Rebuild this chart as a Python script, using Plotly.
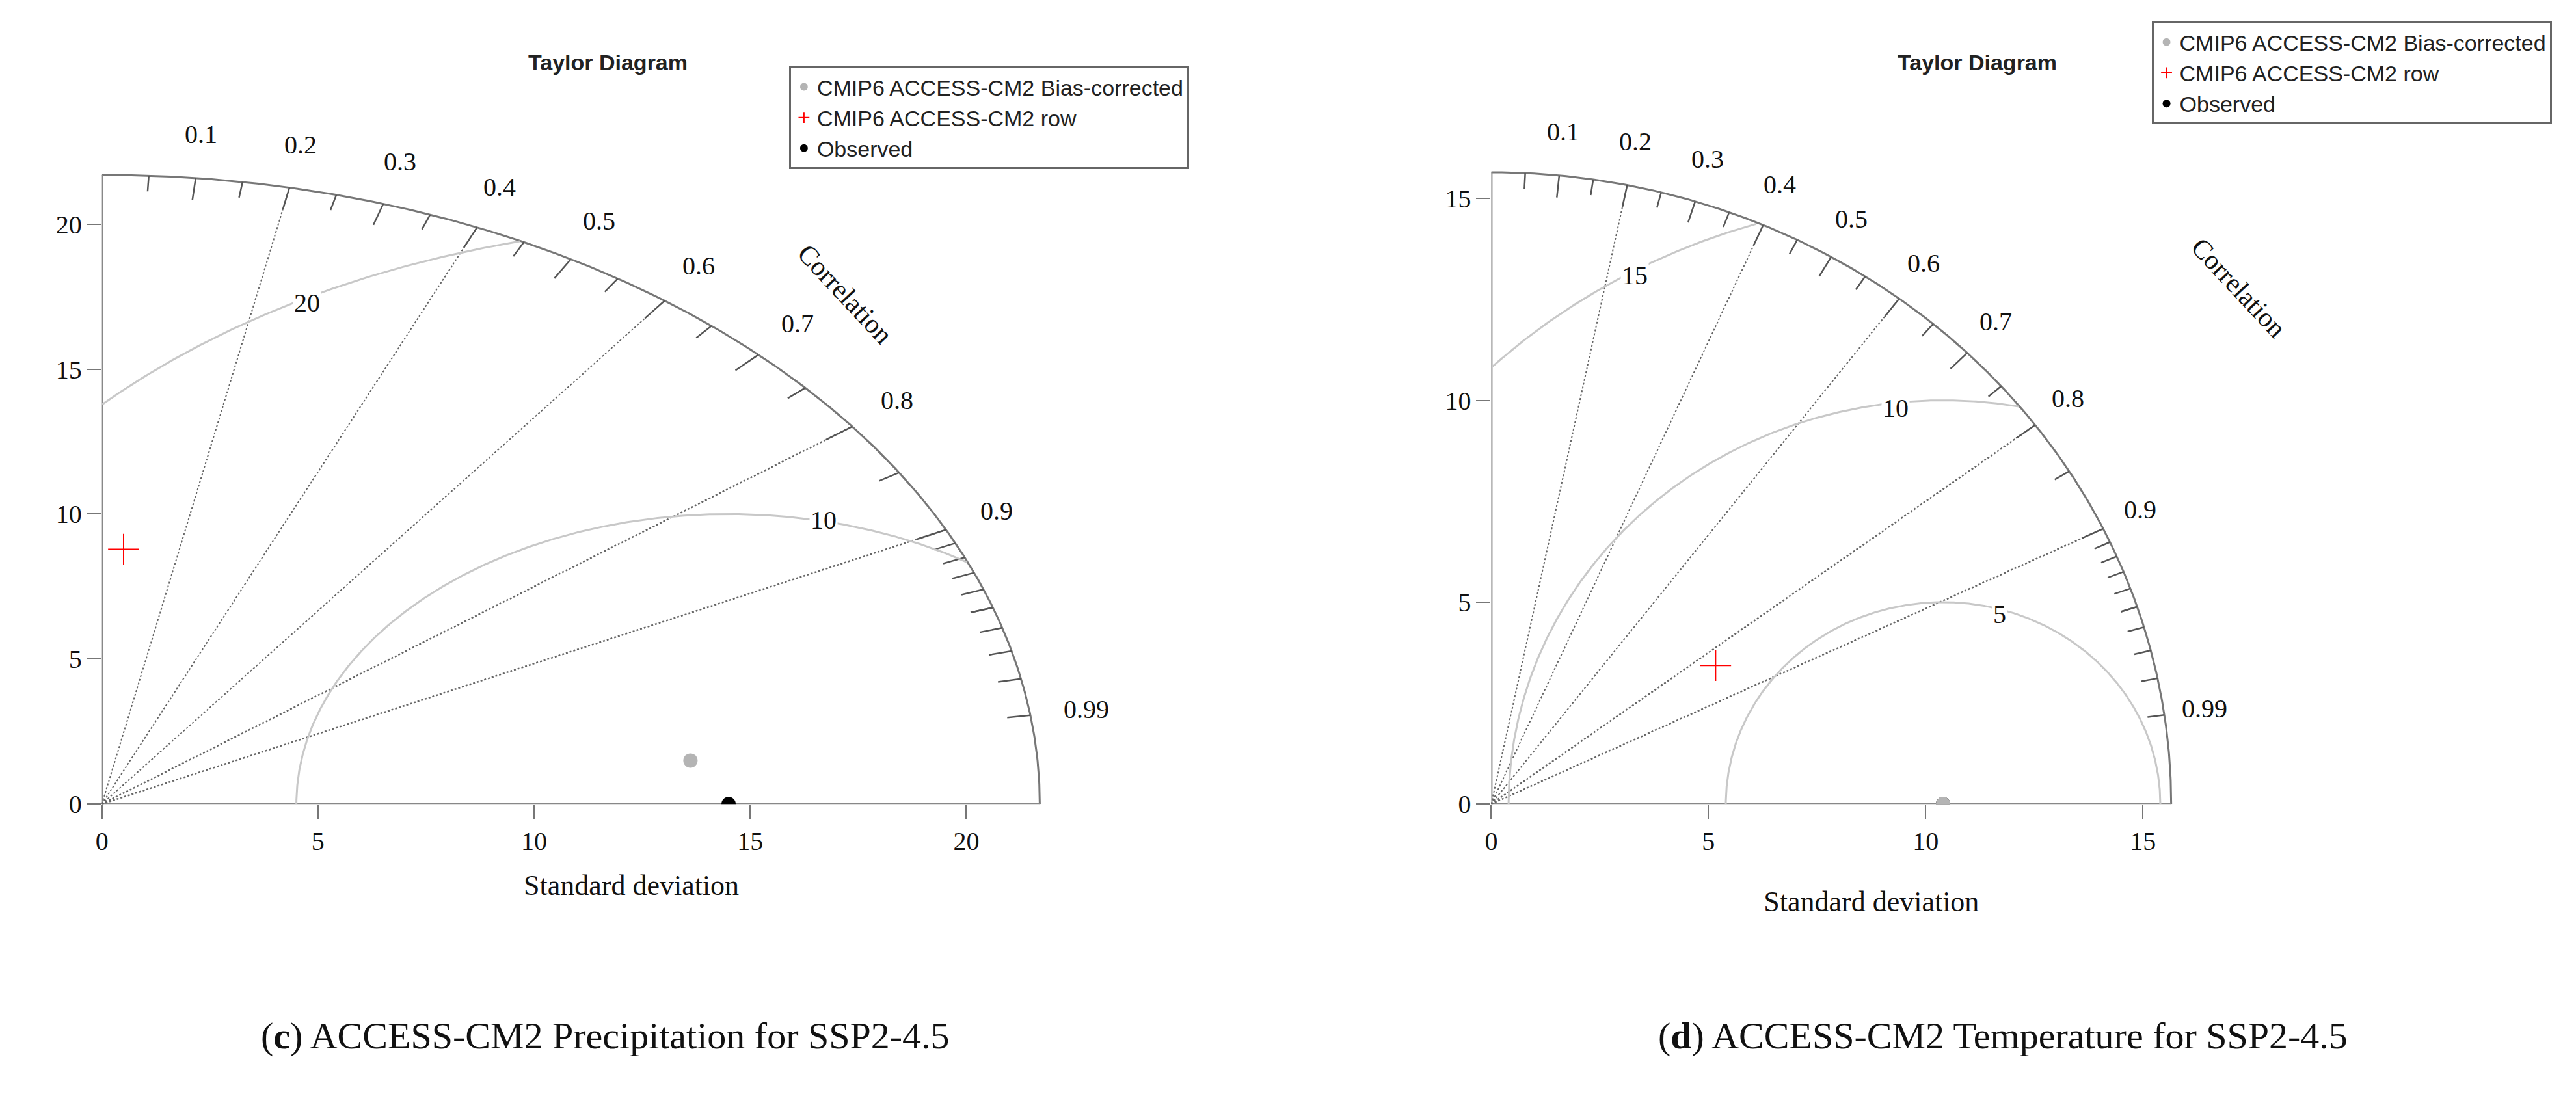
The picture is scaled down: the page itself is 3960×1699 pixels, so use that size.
import numpy as np
import plotly.graph_objects as go

# ---- data ----
series_names = ["CMIP6 ACCESS-CM2 Bias-corrected", "CMIP6 ACCESS-CM2 row", "Observed"]
# panel c (precipitation)
c_sd = [13.7, 8.8, 14.5]
c_corr = [0.994, 0.057, 1.0]
c_max = 21.7
c_rms = [10, 20]
# panel d (temperature)
d_sd = [10.4, 6.2, 10.4]
d_corr = [1.0, 0.833, 1.0]
d_max = 15.65
d_rms = [5, 10, 15]
corr_lines = [0.2, 0.4, 0.6, 0.8, 0.9]
corr_labels = [0.1, 0.2, 0.3, 0.4, 0.5, 0.6, 0.7, 0.8, 0.9, 0.99]
captions = ["(<b>c</b>) ACCESS-CM2 Precipitation for SSP2-4.5",
            "(<b>d</b>) ACCESS-CM2 Temperature for SSP2-4.5"]

W, H = 3960, 1699
fig = go.Figure()
SERIF = "Liberation Serif"
SANS = "Liberation Sans Narrow, Liberation Sans, Arial"

def panel(k, sd, corr, R, rms, rms_lab_pos, corr_word_pos, legend_name):
    xa = "x" if k == 1 else "x2"
    ya = "y" if k == 1 else "y2"
    th = np.linspace(0, np.pi / 2, 300)
    fig.add_trace(go.Scatter(x=R * np.cos(th), y=R * np.sin(th), mode="lines",
                             line=dict(color="#777", width=3), xaxis=xa, yaxis=ya,
                             showlegend=False, hoverinfo="skip"))
    fig.add_trace(go.Scatter(x=[0, R, None, 0, 0], y=[0, 0, None, 0, R], mode="lines",
                             line=dict(color="#888", width=4), xaxis=xa, yaxis=ya,
                             showlegend=False, hoverinfo="skip"))
    for c in corr_lines:
        a = np.arccos(c)
        fig.add_trace(go.Scatter(x=[0, R * np.cos(a)], y=[0, R * np.sin(a)], mode="lines",
                                 line=dict(color="#666", width=2.5 if c >= 0.8 else 2, dash="dot"),
                                 xaxis=xa, yaxis=ya, showlegend=False, hoverinfo="skip"))
    tx, ty = [], []
    ticks = list(np.round(np.arange(0.05, 0.951, 0.05), 2)) + list(np.round(np.arange(0.91, 0.991, 0.01), 2))
    for c in ticks:
        a = np.arccos(c)
        L = 0.035 if abs(c * 10 - round(c * 10)) < 1e-6 else 0.025
        tx += [R * np.cos(a), R * (1 - L) * np.cos(a), None]
        ty += [R * np.sin(a), R * (1 - L) * np.sin(a), None]
    fig.add_trace(go.Scatter(x=tx, y=ty, mode="lines", line=dict(color="#555", width=2.5),
                             xaxis=xa, yaxis=ya, showlegend=False, hoverinfo="skip"))
    for c in corr_labels:
        a = np.arccos(c)
        fig.add_annotation(x=1.06 * R * np.cos(a), y=1.07 * R * np.sin(a), text=str(c),
                           showarrow=False, xref=xa, yref=ya, font=dict(family=SERIF, size=40, color="#111"))
    fig.add_annotation(x=corr_word_pos[0], y=corr_word_pos[1], text="Correlation", textangle=47,
                       showarrow=False, xref=xa, yref=ya, font=dict(family=SERIF, size=42, color="#111"))
    ref = sd[2]
    for r, (lx, ly) in zip(rms, rms_lab_pos):
        t = np.linspace(0, np.pi, 600)
        x = ref + r * np.cos(t)
        y = r * np.sin(t)
        m = (np.hypot(x, y) <= R) & (x >= 0)
        x = np.where(m, x, np.nan)
        y = np.where(m, y, np.nan)
        fig.add_trace(go.Scatter(x=x, y=y, mode="lines", line=dict(color="#c8c8c8", width=3),
                                 xaxis=xa, yaxis=ya, showlegend=False, hoverinfo="skip",
                                 connectgaps=False))
        fig.add_annotation(x=lx, y=ly, text=str(r), showarrow=False, xref=xa, yref=ya,
                           bgcolor="white", font=dict(family=SERIF, size=40, color="#111"))
    styles = [dict(symbol="circle", color="#b4b4b4", size=22),
              dict(symbol="cross-thin-open", color="red", size=34, line=dict(color="red", width=2)),
              dict(symbol="circle", color="black", size=22)]
    order = [2, 0, 1] if k == 2 else [0, 1, 2]
    for i in order:
        a = np.arccos(corr[i])
        st = dict(styles[i])
        if "line" not in st:
            st["line"] = dict(width=0)
        fig.add_trace(go.Scatter(x=[sd[i] * np.cos(a)], y=[sd[i] * np.sin(a)], mode="markers",
                                 marker=st, name=series_names[i], legend=legend_name,
                                 legendrank=i, xaxis=xa, yaxis=ya, hoverinfo="skip"))

panel(1, c_sd, c_corr, c_max, c_rms, [(16.7, 9.8), (4.74, 17.3)], (17.2, 17.6), "legend")
panel(2, d_sd, d_corr, d_max, d_rms, [(11.7, 4.7), (9.3, 9.8), (3.3, 13.1)], (17.2, 12.8), "legend2")

axis_common = dict(showgrid=False, zeroline=False, showline=False, ticks="outside", ticklen=22,
                   tickwidth=2, tickcolor="#777", tickfont=dict(family=SERIF, size=40, color="#111"))
fig.update_layout(
    width=W, height=H, paper_bgcolor="white", plot_bgcolor="white",
    margin=dict(l=0, r=0, t=0, b=0),
    xaxis=dict(domain=[0.0351, 0.4472], range=[0, 24.5], tickvals=[0, 5, 10, 15, 20], anchor="y",
               title=dict(text="Standard deviation", font=dict(family=SERIF, size=44, color="#111"), standoff=30),
               **axis_common),
    yaxis=dict(domain=[0.2672, 0.9188], range=[0, 24.5], tickvals=[0, 5, 10, 15, 20], anchor="x", **axis_common),
    xaxis2=dict(domain=[0.5758, 0.8717], range=[0, 17.5], tickvals=[0, 5, 10, 15], anchor="y2",
                title=dict(text="Standard deviation", font=dict(family=SERIF, size=44, color="#111"), standoff=55),
                **axis_common),
    yaxis2=dict(domain=[0.2672, 0.9152], range=[0, 17.5], tickvals=[0, 5, 10, 15], anchor="x2", **axis_common),
    legend=dict(x=0.3025, y=0.944, xanchor="left", yanchor="top", bordercolor="#666", borderwidth=3,
                font=dict(family=SANS, size=34, color="#222"), tracegroupgap=0, itemsizing="constant",
                bgcolor="white"),
    legend2=dict(x=0.8328, y=0.985, xanchor="left", yanchor="top", bordercolor="#666", borderwidth=3,
                 font=dict(family=SANS, size=34, color="#222"), tracegroupgap=0, itemsizing="constant",
                 bgcolor="white"),
    showlegend=True,
)
for xc, txt in [(0.232, "Taylor Diagram"), (0.765, "Taylor Diagram")]:
    fig.add_annotation(x=xc, y=1 - 68 / H, xref="paper", yref="paper", text="<b>" + txt + "</b>",
                       xanchor="center", showarrow=False,
                       font=dict(family="Liberation Sans", size=34, color="#222"))
for xc, txt in [(0.231, captions[0]), (0.775, captions[1])]:
    fig.add_annotation(x=xc, y=1 - 1641 / H, xref="paper", yref="paper", text=txt,
                       xanchor="center", showarrow=False, font=dict(family=SERIF, size=58, color="#111"))

fig.write_html("out.html")
